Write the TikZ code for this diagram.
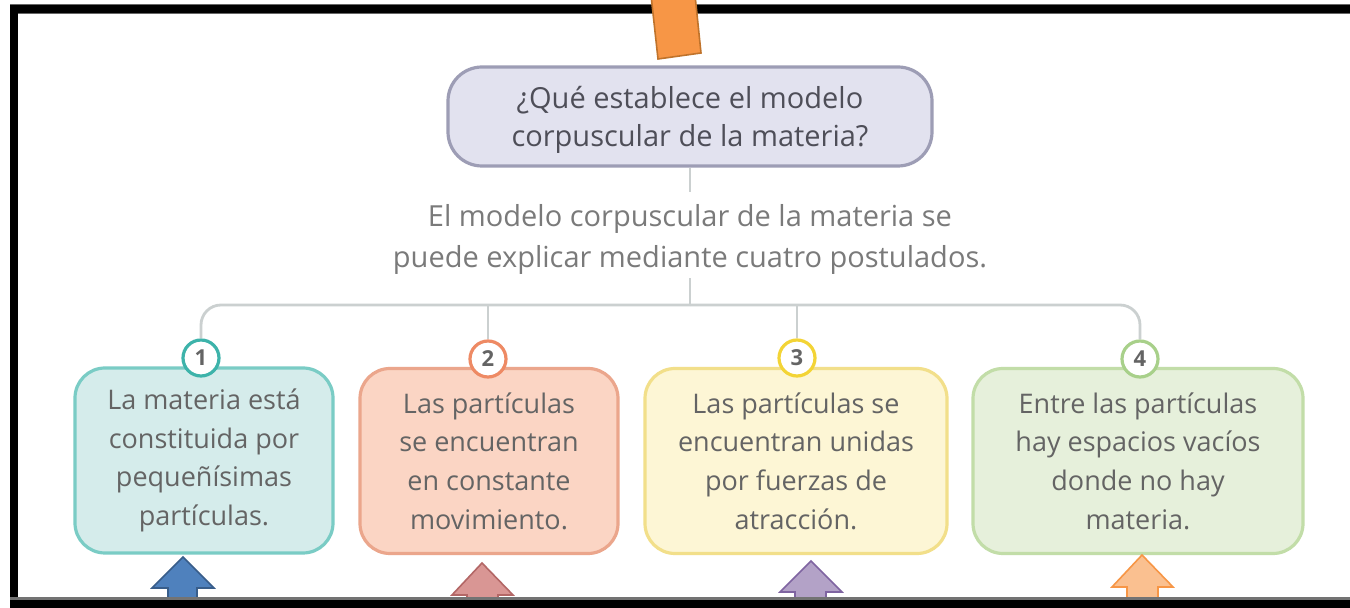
\documentclass[tikz,border=0pt]{standalone}
\usepackage{fontspec}
\setmainfont{Open Sans}
\definecolor{txt}{HTML}{646464}
\definecolor{toptxt}{HTML}{4E4E58}
\definecolor{midtxt}{HTML}{7A7A7A}
\definecolor{conn}{HTML}{CBD0D0}
\definecolor{topF}{HTML}{E2E2EF}
\definecolor{topB}{HTML}{9D9DB5}
\definecolor{tealF}{HTML}{D5ECEB}
\definecolor{tealB}{HTML}{7ACCC5}
\definecolor{tealC}{HTML}{3DB3AA}
\definecolor{peachF}{HTML}{FBD5C4}
\definecolor{peachB}{HTML}{EBA68C}
\definecolor{peachC}{HTML}{EE8A64}
\definecolor{yelF}{HTML}{FDF6D5}
\definecolor{yelB}{HTML}{F2DF8A}
\definecolor{yelC}{HTML}{F3D436}
\definecolor{grnF}{HTML}{E6F0DB}
\definecolor{grnB}{HTML}{C2DDA8}
\definecolor{grnC}{HTML}{A8D08A}
\definecolor{orF}{HTML}{F79646}
\definecolor{orB}{HTML}{C0732B}
\definecolor{blF}{HTML}{4F81BD}
\definecolor{blB}{HTML}{385D8A}
\definecolor{rsF}{HTML}{D99694}
\definecolor{rsB}{HTML}{B36766}
\definecolor{lvF}{HTML}{B3A2C7}
\definecolor{lvB}{HTML}{7F64A1}
\definecolor{pcF}{HTML}{FAC090}
\definecolor{pcB}{HTML}{F79646}
\tikzset{
  postbox/.style={draw=#1B, fill=#1F, line width=1.6pt, rounded corners=15pt,
    minimum width=129pt, minimum height=92.5pt, align=center,
    text=txt, font=\fontsize{13.5}{19.3}\selectfont},
  numcirc/.style={circle, draw=#1C, fill=white, line width=1.6pt, minimum size=18pt,
    inner sep=0pt, text=txt, font=\fontsize{11}{12}\selectfont\bfseries},
  conline/.style={draw=conn, line width=1.4pt},
  blockarrow/.style={line width=0.8pt}
}
\begin{document}
\begin{tikzpicture}[x=0.5pt,y=-0.5pt]
\useasboundingbox (0,0) rectangle (1350,608);
\clip (0,0) rectangle (1350,608);
\fill[white] (0,0) rectangle (1350,608);

% question box
\node[draw=topB, fill=topF, line width=1.6pt, rounded corners=17pt,
  minimum width=242pt, minimum height=49.5pt] (top) at (690,116.5) {};
\node[align=center, text=toptxt, font=\fontsize{14.5}{19}\selectfont, inner sep=0pt]
  (toptext) at ([yshift=-1.5pt]top.center)
  {¿Qué establece el modelo\\corpuscular de la materia?};

% middle text
\node[align=center, text=midtxt, font=\fontsize{14.5}{20.5}\selectfont,
  inner sep=2pt] (mid) at (690,239)
  {El modelo corpuscular de la materia se\\puede explicar mediante cuatro postulados.};

% postulate boxes
\node[postbox=teal] (b1) at (204,460.5) {La materia está\\constituida por\\pequeñísimas\\partículas.};
\node[postbox=peach] (b2) at (489,461) {Las partículas\\se encuentran\\en constante\\movimiento.};
\node[postbox=yel, minimum width=151pt] (b3) at (796,461) {Las partículas se\\encuentran unidas\\por fuerzas de\\atracción.};
\node[postbox=grn, minimum width=165pt] (b4) at (1138,461) {Entre las partículas\\hay espacios vacíos\\donde no hay\\materia.};

% number circles
\node[numcirc=teal] (c1) at (201,358) {1};
\node[numcirc=peach] (c2) at (488,359) {2};
\node[numcirc=yel] (c3) at (797,358) {3};
\node[numcirc=grn] (c4) at (1140,359) {4};

% connectors
\coordinate (hub) at (690,305);
\draw[conline] (top.south) -- ++(0,24);
\draw[conline] (mid.south) -- (hub);
\draw[conline, rounded corners=10pt] (hub) -| (c1.north);
\draw[conline, rounded corners=10pt] (hub) -| (c4.north);
\draw[conline] (c2.north |- hub) -- (c2.north);
\draw[conline] (c3.north |- hub) -- (c3.north);

% bottom block arrows
\filldraw[blockarrow, fill=blF, draw=blB]
  (183,557) -- (214,588) -- (197,588) -- (197,620) -- (168,620) -- (168,588) -- (152,588) -- cycle;
\filldraw[blockarrow, fill=rsF, draw=rsB]
  (482,563) -- (513,595) -- (498,595) -- (498,620) -- (467,620) -- (467,595) -- (452,595) -- cycle;
\filldraw[blockarrow, fill=lvF, draw=lvB]
  (811,561) -- (842,592) -- (826,592) -- (826,620) -- (795,620) -- (795,592) -- (780,592) -- cycle;
\filldraw[blockarrow, fill=pcF, draw=pcB]
  (1142,555) -- (1173,587) -- (1158,587) -- (1158,620) -- (1127,620) -- (1127,587) -- (1112,587) -- cycle;

% black frame
\fill[black!60] (10,4) rectangle (1350,14);
\fill[black] (10,5) rectangle (1350,13);
\fill[black] (10,5) rectangle (18,608);
\fill[black!55] (10,597) rectangle (1350,600);
\fill[black] (10,600) rectangle (1350,608);

% orange bar at top
\filldraw[blockarrow, fill=orF, draw=orB]
  (651,-5) -- (695,-5) -- (701,53) -- (658,59) -- cycle;
\end{tikzpicture}
\end{document}
